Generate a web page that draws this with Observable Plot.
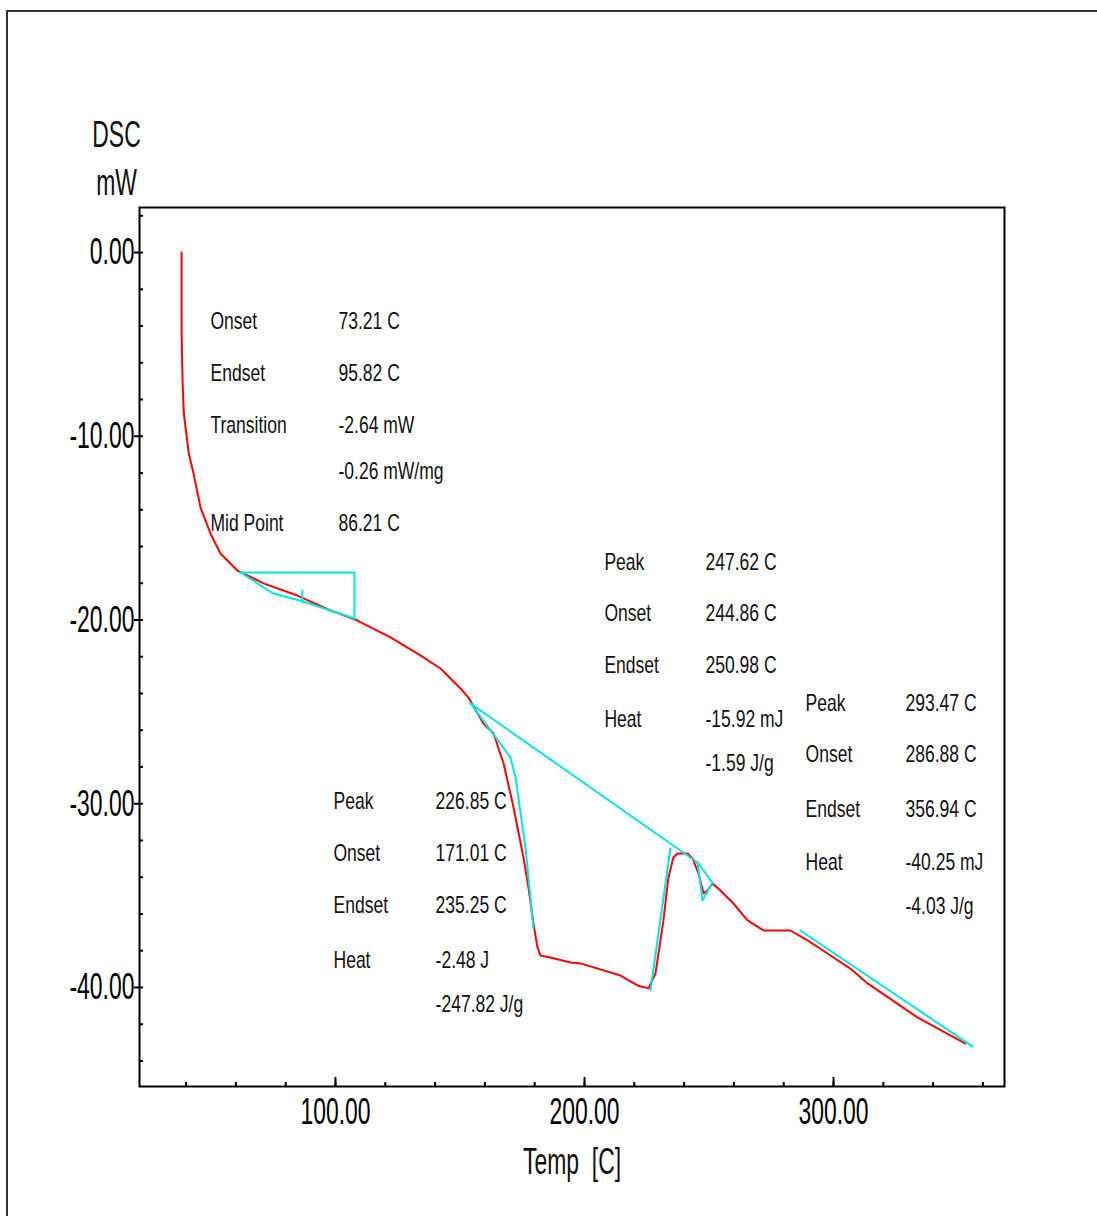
<!DOCTYPE html>
<html><head><meta charset="utf-8">
<script src="https://cdn.jsdelivr.net/npm/d3@7"></script>
<script src="https://cdn.jsdelivr.net/npm/@observablehq/plot@0.6"></script>
<style>
html,body{margin:0;padding:0;background:#fff;}
#wrap{position:relative;width:1097px;height:1216px;overflow:hidden;}
#border{position:absolute;left:6px;top:10px;width:1200px;height:1300px;border:2px solid #333;pointer-events:none;}
</style></head><body><div id="wrap"><div id="chart"></div><div id="border"></div></div>
<script>
// ---- DSC measured curve (red) ----
const redTemp = [38.2,38.2,38.6,39.1,41.1,43.0,45.8,49.8,53.8,60.6,71.1,84.7,98.0,108.8,122.1,134.1,142.2,151.0,153.4,159.4,163.5,167.5,171.5,175.5,177.5,179.5,181.1,182.3,186.3,194.4,198.4,214.5,221.3,225.7,228.5,230.5,231.7,233.7,235.7,237.3,241.4,243.4,245.8,247.8,249.4,251.4,254.6,257.8,259.8,265.5,271.9,282.7,289.6,297.6,300.0,306.8,313.7,333.7,353.0];
const redDsc  = [0,-4.24,-7.13,-8.76,-10.94,-12.03,-13.88,-15.29,-16.38,-17.31,-18.01,-18.67,-19.48,-20.03,-20.95,-21.93,-22.64,-23.84,-24.22,-25.63,-26.18,-27.81,-30.20,-32.93,-34.56,-36.52,-37.82,-38.26,-38.37,-38.64,-38.69,-39.35,-39.89,-40.05,-39.24,-37.44,-36.35,-34.01,-32.93,-32.71,-32.71,-32.98,-33.80,-34.88,-34.72,-34.34,-34.72,-35.16,-35.43,-36.35,-36.90,-36.90,-37.44,-38.15,-38.37,-38.97,-39.78,-41.63,-43.05];

// ---- analysis construction lines (cyan) ----
const cyanSeg  = ["glassStep","glassStep","glassStep","glassTangent","glassTangent","glassTangent","glassTangent","midTick","midTick","baseline1","baseline1","baseline1","tangent1","tangent1","tangent1","tangent1","tangent1","rise","rise","peak2","peak2","peak2","baseline3","baseline3"];
const cyanTemp = [61.8,107.6,107.6,61.8,75.1,87.1,107.6,86.7,86.7,154.2,245.4,251.4,154.2,170.3,172.3,176.3,179.5,226.5,234.5,245.4,247.4,251.4,286.7,355.8];
const cyanDsc  = [-17.41,-17.41,-19.92,-17.41,-18.56,-18.99,-19.92,-18.39,-19.05,-24.54,-33.20,-34.29,-24.54,-27.48,-28.57,-32.38,-36.79,-40.16,-32.44,-33.20,-35.27,-34.29,-36.90,-43.21];

// ---- annotation texts ----
const glassLabels = ["Onset","Endset","Transition","","Mid Point"];
const glassValues = ["73.21 C","95.82 C","-2.64 mW","-0.26 mW/mg","86.21 C"];
const meltLabels  = ["Peak","Onset","Endset","Heat",""];
const meltValues  = ["226.85 C","171.01 C","235.25 C","-2.48 J","-247.82 J/g"];
const peak2Labels = ["Peak","Onset","Endset","Heat",""];
const peak2Values = ["247.62 C","244.86 C","250.98 C","-15.92 mJ","-1.59 J/g"];
const peak3Labels = ["Peak","Onset","Endset","Heat",""];
const peak3Values = ["293.47 C","286.88 C","356.94 C","-40.25 mJ","-4.03 J/g"];

// ---- ticks ----
const xMajorTicks = [100,200,300];
const xMinorTicks = d3.range(40,361,20);
const yMajorTicks = [0,-10,-20,-30,-40];
const yMinorTicks = d3.range(-44,3,2);

// ---- layout of annotation blocks (temperature / mW anchors) ----
const blockLayout = [
  {labels: glassLabels, values: glassValues, lx: 49.8, vx: 101.2, rows: [-3.76,-6.59,-9.41,-11.92,-14.75]},
  {labels: meltLabels,  values: meltValues,  lx: 99.2, vx: 140.2, rows: [-29.88,-32.71,-35.54,-38.53,-40.93]},
  {labels: peak2Labels, values: peak2Values, lx: 208.0, vx: 248.6, rows: [-16.87,-19.65,-22.48,-25.42,-27.81]},
  {labels: peak3Labels, values: peak3Values, lx: 288.8, vx: 328.9, rows: [-24.54,-27.32,-30.31,-33.20,-35.59]}
];
const annot = [];
for (const b of blockLayout) {
  b.labels.forEach((t,i)=>{ if (t) annot.push({x:b.lx, y:b.rows[i], t}); });
  b.values.forEach((t,i)=>{ if (t) annot.push({x:b.vx, y:b.rows[i], t}); });
}

const red = redTemp.map((t,i)=>({t, d: redDsc[i]}));
const cyan = cyanTemp.map((t,i)=>({t, d: cyanDsc[i], s: cyanSeg[i]}));

const BIG = 37, SMALL = 24;
const chart = Plot.plot({
  width: 1097, height: 1216,
  marginLeft: 139, marginRight: 93, marginTop: 207, marginBottom: 130,
  style: {fontFamily: "'Liberation Sans', Arial, sans-serif", background: "transparent", color: "#000"},
  x: {domain: [21.29, 368.67]},
  y: {domain: [-45.39, 2.45]},
  marks: [
    Plot.axisY(yMinorTicks, {tickSize: -4, tickFormat: () => "", strokeWidth: 2, label: null}),
    Plot.axisY(yMajorTicks, {tickSize: 5, tickPadding: 0, fontSize: BIG, tickFormat: d => d.toFixed(2), strokeWidth: 2, label: null}),
    Plot.axisX(xMinorTicks, {tickSize: -4, tickFormat: () => "", strokeWidth: 2, label: null}),
    Plot.axisX(xMajorTicks, {tickSize: -9, tickFormat: () => "", strokeWidth: 2, label: null}),
    Plot.axisX(xMajorTicks, {tickSize: 0, tickPadding: 11, fontSize: BIG, tickFormat: d => d.toFixed(2), label: null}),
    Plot.frame({stroke: "#000", strokeWidth: 2}),
    Plot.line(red, {x: "t", y: "d", stroke: "#ff0000", strokeWidth: 2}),
    Plot.line(cyan, {x: "t", y: "d", z: "s", stroke: "#00e5e5", strokeWidth: 2}),
    Plot.text(annot, {x: "x", y: "y", text: "t", textAnchor: "start", lineAnchor: "middle", fontSize: SMALL, fill: "#111"}),
    Plot.text(["DSC"], {frameAnchor: "top-left", dx: -23, dy: -87, lineAnchor: "top", textAnchor: "middle", fontSize: BIG, fill: "#111"}),
    Plot.text(["mW"], {frameAnchor: "top-left", dx: -23, dy: -39, lineAnchor: "top", textAnchor: "middle", fontSize: BIG, fill: "#111"}),
    Plot.text(["Temp\u00a0\u00a0[C]"], {frameAnchor: "bottom", dy: 61, lineAnchor: "top", textAnchor: "middle", fontSize: BIG, fill: "#111"})
  ]
});
// condense the lettering horizontally like the original instrument font
chart.querySelectorAll("text").forEach(t => {
  const g = t.closest("[font-size]");
  const fs = g ? +g.getAttribute("font-size") : BIG;
  const sx = fs <= SMALL ? 0.73 : 0.62;
  const tr = t.getAttribute("transform");
  if (tr) t.setAttribute("transform", tr + ` scale(${sx},1)`);
  else {
    const x = +(t.getAttribute("x") || 0), y = +(t.getAttribute("y") || 0);
    t.setAttribute("transform", `translate(${x},0) scale(${sx},1) translate(${-x},0)`);
  }
});
document.getElementById("chart").appendChild(chart);
</script>
</body></html>
